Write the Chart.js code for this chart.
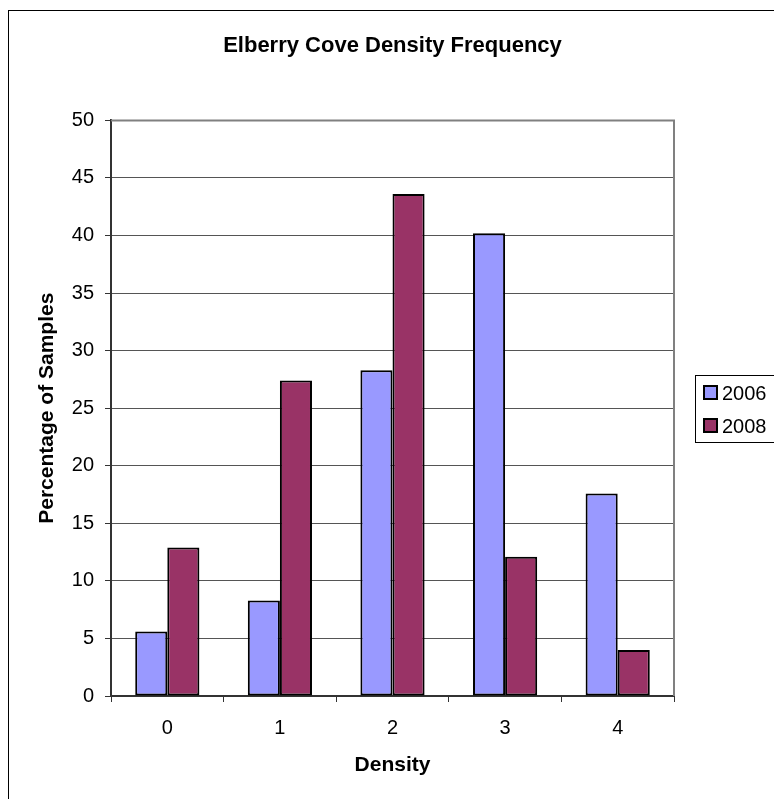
<!DOCTYPE html>
<html>
<head>
<meta charset="utf-8">
<title>Elberry Cove Density Frequency</title>
<script src="https://cdn.jsdelivr.net/npm/chart.js@4/dist/chart.umd.min.js"></script>
<style>
  html, body { margin: 0; padding: 0; background: #fff; overflow: hidden; }
  canvas { display: block; }
</style>
</head>
<body>
<canvas id="chart" width="774" height="799"></canvas>
<script>
// data
const categories = ['0', '1', '2', '3', '4'];
const seriesNames = ['2006', '2008'];
const values2006 = [5.6, 8.3, 28.3, 40.2, 17.6];
const values2008 = [12.9, 27.4, 43.6, 12.1, 4.0];
const seriesColors = ['#9999ff', '#993366'];
const yMin = 0;
const yMax = 50;
const yStep = 5;

const FONT = '"Liberation Sans", Arial, Helvetica, sans-serif';

// outer frame + grey plot border on top/right
const framePlugin = {
  id: 'frame',
  beforeDraw(chart) {
    const ctx = chart.ctx;
    ctx.save();
    ctx.fillStyle = '#fff';
    ctx.fillRect(0, 0, chart.width, chart.height);
    ctx.strokeStyle = '#000';
    ctx.lineWidth = 1;
    ctx.strokeRect(8.5, 10.5, 900, 900);
    ctx.restore();
  },
  afterDraw(chart) {
    const a = chart.chartArea;
    const ctx = chart.ctx;
    ctx.save();
    ctx.strokeStyle = '#808080';
    ctx.lineWidth = 2;
    ctx.beginPath();
    ctx.moveTo(a.left, a.top);
    ctx.lineTo(a.right, a.top);
    ctx.lineTo(a.right, a.bottom);
    ctx.stroke();
    ctx.restore();
  }
};

// boxed legend to the right of the plot
const boxLegend = {
  id: 'boxLegend',
  afterDraw(chart) {
    const ctx = chart.ctx;
    ctx.save();
    ctx.strokeStyle = '#000';
    ctx.lineWidth = 1;
    ctx.strokeRect(695.5, 375.5, 120, 67);
    ctx.font = '20px ' + FONT;
    ctx.textBaseline = 'middle';
    chart.data.datasets.forEach((ds, i) => {
      const y = 393 + i * 33;
      ctx.fillStyle = ds.backgroundColor;
      ctx.fillRect(704, y - 7, 13, 13);
      ctx.lineWidth = 2;
      ctx.strokeRect(704, y - 7, 13, 13);
      ctx.fillStyle = '#000';
      ctx.fillText(ds.label, 722, y + 1);
    });
    ctx.restore();
  }
};

new Chart(document.getElementById('chart'), {
  type: 'bar',
  data: {
    labels: categories,
    datasets: [
      { label: seriesNames[0], data: values2006, backgroundColor: seriesColors[0] },
      { label: seriesNames[1], data: values2008, backgroundColor: seriesColors[1] }
    ].map(d => Object.assign(d, {
      borderColor: '#000',
      borderWidth: 2,
      borderSkipped: false,
      categoryPercentage: 0.57,
      barPercentage: 1
    }))
  },
  options: {
    responsive: false,
    animation: false,
    devicePixelRatio: 1,
    layout: { padding: { left: 35, right: 100, top: 0, bottom: 21 } },
    plugins: {
      legend: { display: false },
      tooltip: { enabled: false },
      title: {
        display: true,
        fullSize: false,
        text: 'Elberry Cove Density Frequency',
        color: '#000',
        font: { family: FONT, size: 22, weight: 'bold' },
        padding: { top: 33, bottom: 61 }
      }
    },
    scales: {
      x: {
        offset: true,
        grid: { drawOnChartArea: false, drawTicks: true, tickLength: 6, color: '#333' },
        border: { color: '#333', width: 2 },
        ticks: { color: '#000', font: { family: FONT, size: 20 }, padding: 14 },
        title: {
          display: true, text: 'Density', color: '#000',
          font: { family: FONT, size: 21, weight: 'bold' }, padding: 0
        },
        afterFit(s) { s.height = 82; }
      },
      y: {
        min: yMin,
        max: yMax,
        grid: { color: '#555', tickColor: '#333', tickLength: 6 },
        border: { color: '#333', width: 2 },
        ticks: { stepSize: yStep, color: '#000', font: { family: FONT, size: 20 }, padding: 11 },
        title: {
          display: true, text: 'Percentage of Samples', color: '#000',
          font: { family: FONT, size: 21, weight: 'bold' }, padding: 0
        },
        afterFit(s) { s.width = 76; }
      }
    }
  },
  plugins: [framePlugin, boxLegend]
});
</script>
</body>
</html>
